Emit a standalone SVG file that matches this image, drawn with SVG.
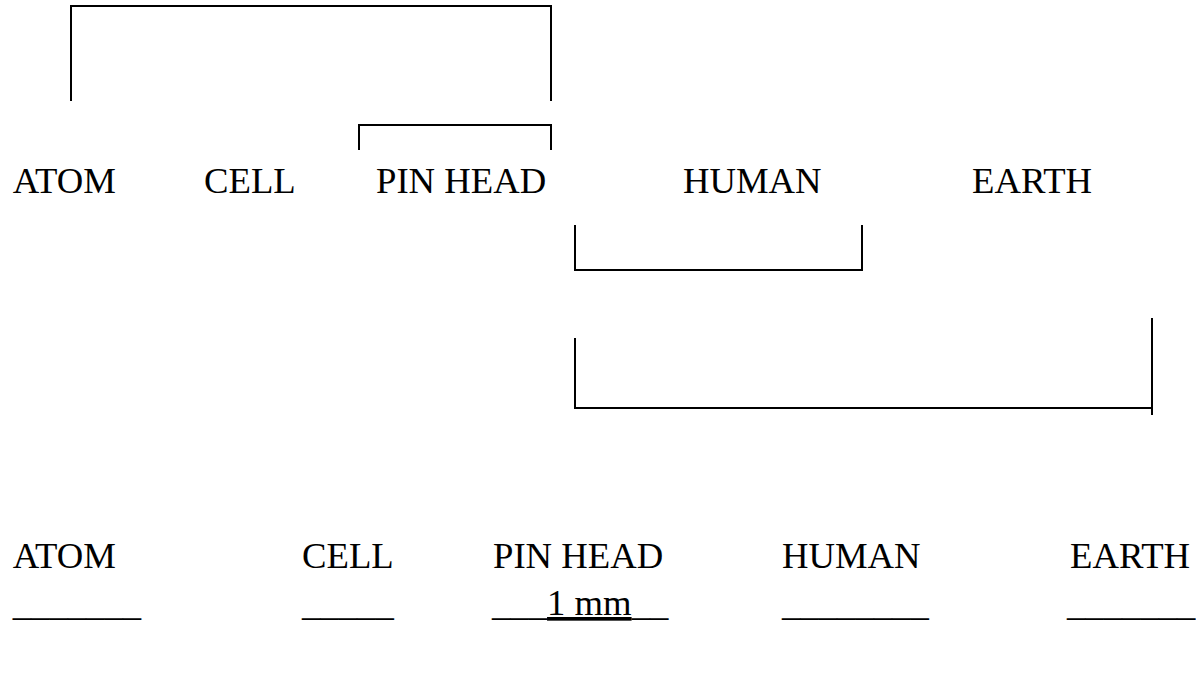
<svg xmlns="http://www.w3.org/2000/svg" width="1196" height="674" viewBox="0 0 1196 674">
  <style>
    .lbl { font-family: "Liberation Serif", "Times New Roman", serif; font-size: 36.7px; fill: #000; }
    .br { fill: none; stroke: #000; stroke-width: 2; }
  </style>
  <rect width="1196" height="674" fill="#fff"/>

  <!-- brackets grouping the size labels -->
  <g id="connectors">
    <path class="br" d="M71 101 V6 H551 V101"/>
    <path class="br" d="M359 150 V125 H551 V150"/>
    <path class="br" d="M575 225 V270 H862 V225"/>
    <path class="br" d="M575 338 V408 H1152"/>
    <path class="br" d="M1152 318 V415"/>
  </g>

  <!-- first row of objects -->
  <g id="row1">
    <text id="atom1" class="lbl" x="12.7" y="193">ATOM</text>
    <text id="cell1" class="lbl" x="204" y="193">CELL</text>
    <text id="pinhead1" class="lbl" x="376" y="193">PIN HEAD</text>
    <text id="human1" class="lbl" x="683" y="193">HUMAN</text>
    <text id="earth1" class="lbl" x="972" y="193">EARTH</text>
  </g>

  <!-- second row of objects -->
  <g id="row2">
    <text id="atom2" class="lbl" x="12.7" y="568">ATOM</text>
    <text id="cell2" class="lbl" x="302" y="568">CELL</text>
    <text id="pinhead2" class="lbl" x="493" y="568">PIN HEAD</text>
    <text id="human2" class="lbl" x="782" y="568">HUMAN</text>
    <text id="earth2" class="lbl" x="1070" y="568">EARTH</text>
  </g>

  <!-- answer blanks -->
  <g id="blanks">
    <text id="blank-atom" class="lbl" x="12.7" y="615">_______</text>
    <text id="blank-cell" class="lbl" x="302" y="615">_____</text>
    <text id="blank-pinhead" class="lbl" x="492" y="615">___<tspan text-decoration="underline">1 mm</tspan>__</text>
    <text id="blank-human" class="lbl" x="782" y="615">________</text>
    <text id="blank-earth" class="lbl" x="1067" y="615">_______</text>
  </g>
</svg>
